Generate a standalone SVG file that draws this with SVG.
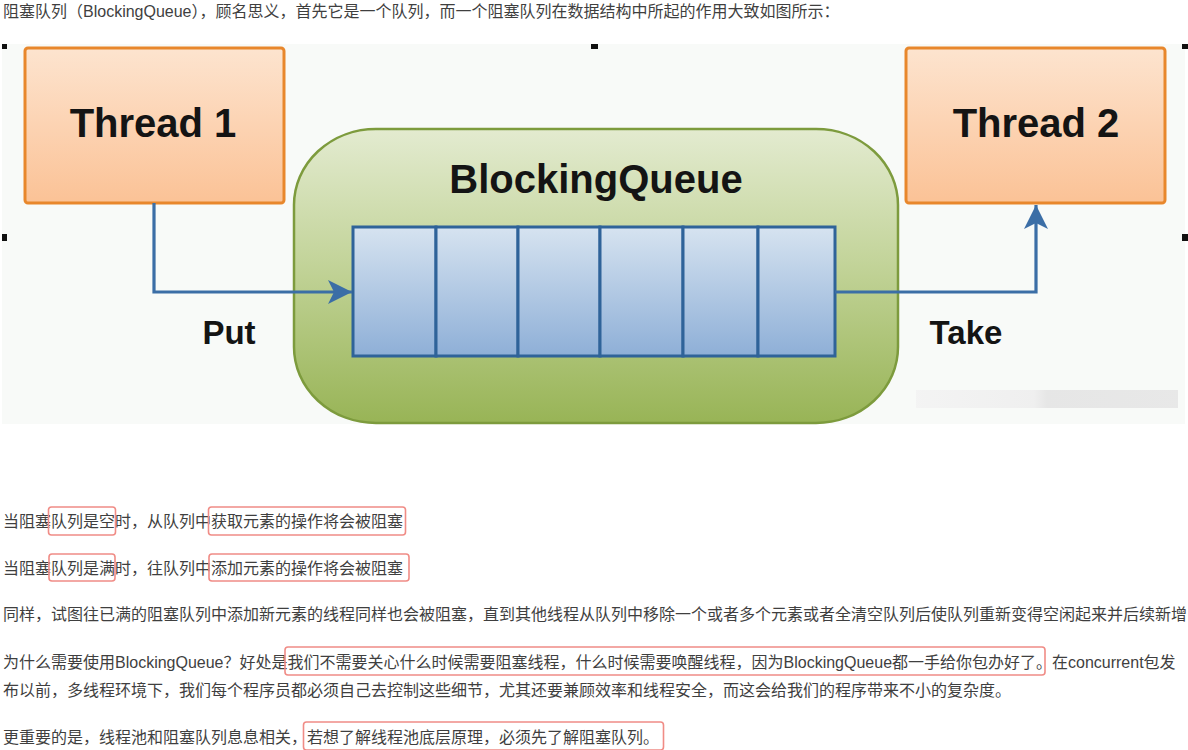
<svg xmlns="http://www.w3.org/2000/svg" width="1188" height="750" viewBox="0 0 1188 750">
<defs>
<style>
.body{font-family:"Liberation Sans","Noto Sans CJK SC",sans-serif;font-size:16px;fill:#3f3f3f}
.hl{fill:none;stroke:#f08c86;stroke-width:1.6}
.title{font-family:"Liberation Sans",Arial,sans-serif;font-weight:bold;fill:#141414}
.thread{fill:url(#gOrange);stroke:#e8872c;stroke-width:3}
.cell{fill:url(#gBlue);stroke:#2f6399;stroke-width:3}
.conn{fill:none;stroke:#3b6ea6;stroke-width:3.2}
.handle{fill:#111}
</style>
<linearGradient id="gOrange" x1="0" y1="0" x2="0" y2="1">
<stop offset="0" stop-color="#fde4cf"/>
<stop offset="1" stop-color="#fbc296"/>
</linearGradient>
<linearGradient id="gGreen" x1="0" y1="0" x2="0" y2="1">
<stop offset="0" stop-color="#e3ebd0"/>
<stop offset="0.45" stop-color="#c3d49a"/>
<stop offset="1" stop-color="#98b456"/>
</linearGradient>
<linearGradient id="gBlue" x1="0" y1="0" x2="0" y2="1">
<stop offset="0" stop-color="#d6e3f0"/>
<stop offset="1" stop-color="#8eafd7"/>
</linearGradient>
<linearGradient id="gWm" x1="0" y1="0" x2="1" y2="0">
<stop offset="0" stop-color="#f3f3f3"/>
<stop offset="0.45" stop-color="#eeeeee"/>
<stop offset="0.5" stop-color="#e4e4e4"/>
<stop offset="1" stop-color="#e6e6e6"/>
</linearGradient>
<marker id="arrow" viewBox="0 0 10 10" refX="10" refY="5" markerWidth="7.5" markerHeight="8" markerUnits="strokeWidth" orient="auto">
<path d="M0,0 L10,5 L0,10 L2.5,5 z" fill="#3b6ea6"/>
</marker>
</defs>

<rect width="1188" height="750" fill="#ffffff"/>

<text class="body" x="3" y="17">阻塞队列（BlockingQueue），顾名思义，首先它是一个队列，而一个阻塞队列在数据结构中所起的作用大致如图所示：</text>

<g id="figure">
<rect x="2" y="44" width="1183" height="380" fill="#f8faf8"/>
<rect id="watermark" x="916" y="390" width="262" height="18" fill="url(#gWm)" opacity="0.9"/>
</g>

<g id="handles">
<rect class="handle" x="2" y="44" width="5" height="5"/>
<rect class="handle" x="591" y="44" width="7" height="5"/>
<rect class="handle" x="1182" y="44" width="6" height="5"/>
<rect class="handle" x="2" y="234" width="5" height="7"/>
<rect class="handle" x="1182" y="234" width="6" height="7"/>
</g>

<g id="blockingQueue">
<rect x="294" y="129" width="604" height="294" rx="82" ry="76" fill="url(#gGreen)" stroke="#7d9b3d" stroke-width="2.5"/>
<text class="title" x="596" y="193" font-size="40" text-anchor="middle">BlockingQueue</text>
</g>

<g id="queueCells">
<rect class="cell" x="353" y="227" width="83" height="129"/>
<rect class="cell" x="436" y="227" width="82" height="129"/>
<rect class="cell" x="518" y="227" width="82" height="129"/>
<rect class="cell" x="600" y="227" width="83" height="129"/>
<rect class="cell" x="683" y="227" width="75" height="129"/>
<rect class="cell" x="758" y="227" width="77" height="129"/>
</g>

<g id="thread1">
<rect class="thread" x="25" y="48" width="259" height="155" rx="3"/>
<text class="title" x="153" y="137" font-size="40" text-anchor="middle">Thread 1</text>
</g>

<g id="thread2">
<rect class="thread" x="906" y="48" width="259" height="155" rx="3"/>
<text class="title" x="1036" y="137" font-size="40" text-anchor="middle">Thread 2</text>
</g>

<g id="connectors">
<path class="conn" d="M154,203 V292 H352" marker-end="url(#arrow)"/>
<path class="conn" d="M835,292 H1036 V205" marker-end="url(#arrow)"/>
</g>

<g id="labels">
<text class="title" x="229" y="344" font-size="33" text-anchor="middle">Put</text>
<text class="title" x="966" y="344" font-size="33" text-anchor="middle">Take</text>
</g>

<g id="paragraphs">
<text class="body" x="3" y="527">当阻塞队列是空时，从队列中获取元素的操作将会被阻塞</text>
<rect class="hl" x="48.5" y="507" width="67" height="28" rx="3"/>
<rect class="hl" x="208.5" y="507" width="197" height="28" rx="3"/>

<text class="body" x="3" y="574">当阻塞队列是满时，往队列中添加元素的操作将会被阻塞</text>
<rect class="hl" x="49" y="554" width="66" height="27" rx="3"/>
<rect class="hl" x="209" y="554" width="200" height="27" rx="3"/>

<text class="body" x="3" y="620">同样，试图往已满的阻塞队列中添加新元素的线程同样也会被阻塞，直到其他线程从队列中移除一个或者多个元素或者全清空队列后使队列重新变得空闲起来并后续新增</text>

<text class="body" x="3" y="668">为什么需要使用BlockingQueue？好处是我们不需要关心什么时候需要阻塞线程，什么时候需要唤醒线程，因为BlockingQueue都一手给你包办好了。<tspan x="1052">在concurrent包发</tspan></text>
<rect class="hl" x="285" y="647" width="760" height="28" rx="3"/>
<text class="body" x="3" y="696">布以前，多线程环境下，我们每个程序员都必须自己去控制这些细节，尤其还要兼顾效率和线程安全，而这会给我们的程序带来不小的复杂度。</text>

<text class="body" x="3" y="743">更重要的是，线程池和阻塞队列息息相关，若想了解线程池底层原理，必须先了解阻塞队列。</text>
<rect class="hl" x="303.5" y="722" width="360" height="28" rx="3"/>
</g>
</svg>
